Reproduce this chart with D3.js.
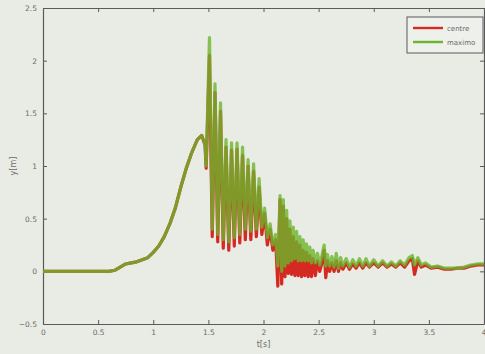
<!DOCTYPE html>
<html>
<head>
<meta charset="utf-8">
<script src="https://cdn.jsdelivr.net/npm/d3@7"></script>
<style>
  html, body { margin: 0; padding: 0; background: #e9ebe5; }
  svg { display: block; }
  text { font-family: "DejaVu Sans", sans-serif; fill: #6a6a6a; }
</style>
</head>
<body>
<div id="chart"></div>
<script>
// sample times [s]
const times = [0, 0.3, 0.6, 0.65, 0.7, 0.75, 0.8, 0.85, 0.9, 0.95, 1.0, 1.05, 1.1, 1.15, 1.2, 1.25, 1.3, 1.35, 1.4, 1.44, 1.47,
  1.48, 1.51, 1.535, 1.56, 1.585, 1.61, 1.635, 1.66, 1.685, 1.71, 1.735, 1.76, 1.785, 1.81, 1.835, 1.86, 1.885, 1.91, 1.935, 1.96, 1.985,
  2.01, 2.035, 2.06, 2.085, 2.11, 2.13, 2.15, 2.165, 2.18, 2.195, 2.21, 2.225, 2.24, 2.255, 2.27, 2.285, 2.3, 2.315, 2.33, 2.345,
  2.36, 2.375, 2.39, 2.405, 2.42, 2.435, 2.45, 2.47, 2.49, 2.51, 2.53, 2.55, 2.565, 2.58, 2.6, 2.62, 2.64, 2.66, 2.68, 2.7, 2.72,
  2.75, 2.78, 2.81, 2.84, 2.87, 2.9, 2.93, 2.96, 3.0, 3.04, 3.08, 3.12, 3.16, 3.2, 3.24, 3.28, 3.32, 3.35, 3.37, 3.4, 3.43, 3.47,
  3.52, 3.58, 3.64, 3.7, 3.76, 3.82, 3.88, 3.94, 4.0];

// "centre" series [m]
const centre = [0, 0, 0, 0.01, 0.04, 0.07, 0.08, 0.09, 0.11, 0.13, 0.18, 0.24, 0.33, 0.45, 0.6, 0.8, 0.98, 1.13, 1.25, 1.29, 1.2,
  0.98, 2.05, 0.33, 1.7, 0.28, 1.52, 0.22, 1.18, 0.2, 1.15, 0.24, 1.16, 0.27, 1.1, 0.3, 1.0, 0.3, 0.95, 0.33, 0.8, 0.35,
  0.55, 0.25, 0.4, 0.2, 0.3, -0.14, 0.68, -0.12, 0.62, -0.05, 0.5, -0.02, 0.4, -0.03, 0.33, -0.04, 0.28, -0.04, 0.25, -0.05,
  0.2, -0.04, 0.18, -0.05, 0.15, -0.05, 0.12, -0.04, 0.1, 0.0, 0.08, 0.2, -0.06, 0.1, 0.0, 0.08, 0.0, 0.1, 0.0, 0.08, 0.02,
  0.08, 0.02, 0.07, 0.03, 0.08, 0.03, 0.08, 0.04, 0.08, 0.04, 0.08, 0.04, 0.07, 0.04, 0.08, 0.04, 0.1, 0.12, -0.03, 0.1, 0.04, 0.06,
  0.03, 0.04, 0.02, 0.02, 0.03, 0.03, 0.05, 0.06, 0.06];

// "maximo" series [m]
const maximo = [0, 0, 0, 0.01, 0.04, 0.07, 0.08, 0.09, 0.11, 0.13, 0.18, 0.24, 0.33, 0.45, 0.6, 0.8, 0.98, 1.13, 1.25, 1.29, 1.2,
  1.0, 2.22, 0.4, 1.78, 0.35, 1.6, 0.3, 1.25, 0.28, 1.22, 0.32, 1.22, 0.35, 1.18, 0.4, 1.06, 0.38, 1.02, 0.4, 0.88, 0.42,
  0.6, 0.32, 0.45, 0.25, 0.35, 0.05, 0.72, 0.0, 0.68, 0.05, 0.58, 0.08, 0.48, 0.1, 0.42, 0.12, 0.38, 0.1, 0.33, 0.1,
  0.3, 0.1, 0.26, 0.1, 0.23, 0.08, 0.2, 0.08, 0.17, 0.06, 0.15, 0.25, 0.05, 0.16, 0.05, 0.14, 0.04, 0.17, 0.03, 0.13, 0.05,
  0.12, 0.04, 0.11, 0.05, 0.12, 0.05, 0.12, 0.05, 0.11, 0.05, 0.1, 0.05, 0.09, 0.05, 0.1, 0.06, 0.13, 0.15, 0.06, 0.13, 0.06, 0.08,
  0.04, 0.05, 0.03, 0.03, 0.03, 0.04, 0.06, 0.07, 0.07];

const xTicks = [0, 0.5, 1, 1.5, 2, 2.5, 3, 3.5, 4];
const yTicks = [-0.5, 0, 0.5, 1, 1.5, 2, 2.5];
const seriesNames = ["centre", "maximo"];
const seriesColors = ["#d42a22", "#6cb52c"];

const width = 485, height = 354;
const margin = { top: 8, right: 1, bottom: 30, left: 43 };
const w = width - margin.left - margin.right;
const h = height - margin.top - margin.bottom;

const svg = d3.select("#chart").append("svg")
  .attr("width", width)
  .attr("height", height);

const g = svg.append("g")
  .attr("transform", "translate(" + margin.left + "," + margin.top + ")");

const x = d3.scaleLinear().domain([0, 4]).range([0, w]);
const y = d3.scaleLinear().domain([-0.5, 2.5]).range([h, 0]);

// axes, matlab style: ticks inside, box all round
const axisColor = "#5a5a5a";
function styleAxis(sel) {
  sel.select(".domain").attr("stroke", axisColor).attr("stroke-width", 1.2);
  sel.selectAll(".tick line").attr("stroke", axisColor);
  sel.selectAll(".tick text").style("font-size", "7.5px").attr("fill", "#6a6a6a");
}

const xAxis = g.append("g")
  .attr("transform", "translate(0," + h + ")")
  .call(d3.axisBottom(x).tickValues(xTicks).tickSizeInner(-4).tickSizeOuter(0).tickPadding(6).tickFormat(d3.format("")))
  .call(styleAxis);
// last label sits on the window edge
xAxis.selectAll(".tick text").filter(d => d === 4).attr("text-anchor", "end").attr("dx", "2px");

g.append("g")
  .call(d3.axisTop(x).tickValues(xTicks).tickSizeInner(-4).tickSizeOuter(0).tickFormat(""))
  .call(styleAxis);

g.append("g")
  .call(d3.axisLeft(y).tickValues(yTicks).tickSizeInner(-4).tickSizeOuter(0).tickPadding(6).tickFormat(d3.format("")))
  .call(styleAxis);

g.append("g")
  .attr("transform", "translate(" + w + ",0)")
  .call(d3.axisRight(y).tickValues(yTicks).tickSizeInner(-4).tickSizeOuter(0).tickFormat(""))
  .call(styleAxis);

// lines
const line = d3.line()
  .x((d, i) => x(times[i]))
  .y(d => y(d));

g.append("path")
  .datum(centre)
  .attr("fill", "none")
  .attr("stroke", seriesColors[0])
  .attr("stroke-width", 3.2)
  .attr("stroke-linejoin", "round")
  .attr("d", line);

g.append("path")
  .datum(maximo)
  .attr("fill", "none")
  .attr("stroke", seriesColors[1])
  .attr("stroke-opacity", 0.8)
  .attr("stroke-width", 3.2)
  .attr("stroke-linejoin", "round")
  .attr("d", line);

// axis labels
svg.append("text")
  .attr("x", margin.left + x(2))
  .attr("y", 347)
  .attr("text-anchor", "middle")
  .style("font-size", "8px")
  .text("t[s]");

svg.append("text")
  .attr("transform", "translate(16," + (margin.top + y(1)) + ") rotate(-90)")
  .attr("text-anchor", "middle")
  .style("font-size", "8px")
  .text("y[m]");

// legend
const legend = svg.append("g").attr("transform", "translate(407,17)");
legend.append("rect")
  .attr("width", 76).attr("height", 36)
  .attr("fill", "#eef0eb")
  .attr("stroke", axisColor).attr("stroke-width", 1);

seriesNames.forEach((name, i) => {
  const row = legend.append("g").attr("transform", "translate(0," + (11 + i * 14) + ")");
  row.append("line")
    .attr("x1", 6).attr("x2", 36)
    .attr("stroke", seriesColors[i]).attr("stroke-width", 2.4);
  row.append("text")
    .attr("x", 40).attr("y", 3)
    .style("font-size", "7px")
    .text(name);
});
</script>
</body>
</html>
